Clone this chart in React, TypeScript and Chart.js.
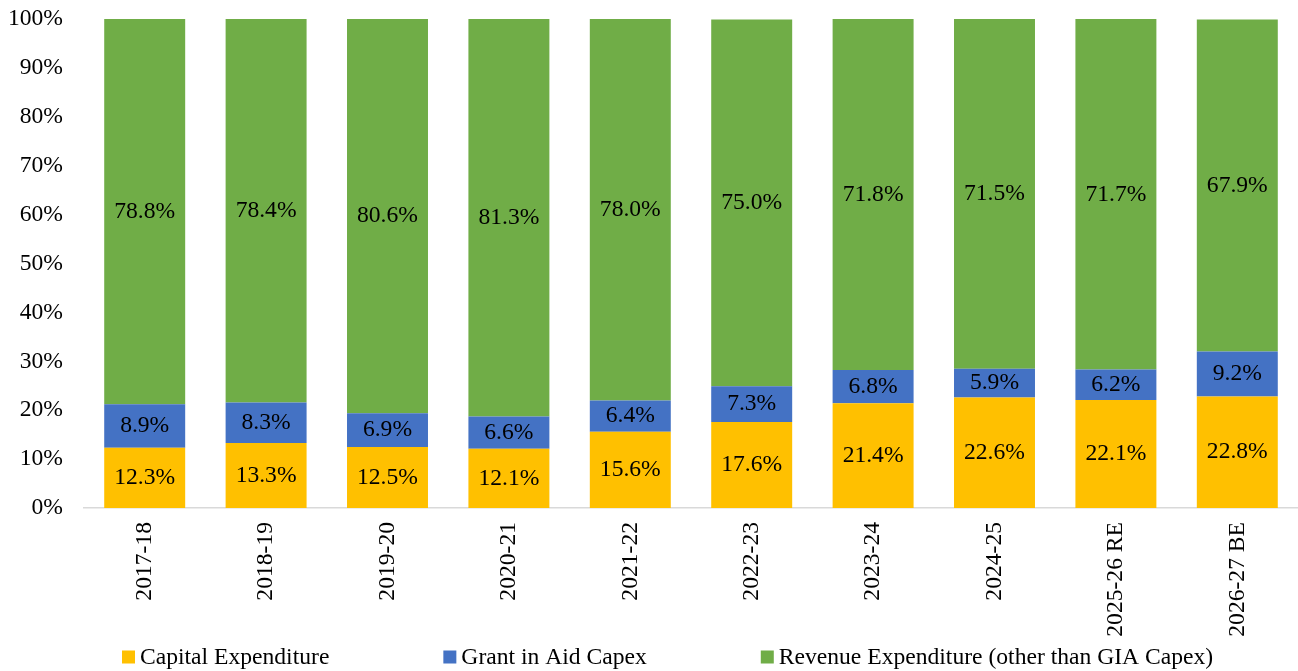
import React, { useEffect, useRef } from "react";
import { Chart, registerables } from "chart.js";

Chart.register(...registerables);

const categories = ["2017-18", "2018-19", "2019-20", "2020-21", "2021-22", "2022-23", "2023-24", "2024-25", "2025-26 RE", "2026-27 BE"];
const capitalExpenditure = [12.3, 13.3, 12.5, 12.1, 15.6, 17.6, 21.4, 22.6, 22.1, 22.8];
const grantInAidCapex = [8.9, 8.3, 6.9, 6.6, 6.4, 7.3, 6.8, 5.9, 6.2, 9.2];
const revenueExpenditure = [78.8, 78.4, 80.6, 81.3, 78.0, 75.0, 71.8, 71.5, 71.7, 67.9];
const seriesNames = ["Capital Expenditure", "Grant in Aid Capex", "Revenue Expenditure (other than GIA Capex)"];
const yTicks = [0, 10, 20, 30, 40, 50, 60, 70, 80, 90, 100];

const FONT_FAMILY = '"Liberation Serif", "Times New Roman", serif';
const FONT_SIZE = 23.6;
const COLORS = ["#FFC000", "#4472C4", "#70AD47"];

const dataLabelPlugin = {
  id: "segmentLabels",
  afterDatasetsDraw(chart: any) {
    const ctx = chart.ctx;
    ctx.save();
    ctx.font = `${FONT_SIZE}px ${FONT_FAMILY}`;
    ctx.fillStyle = "#000000";
    ctx.textAlign = "center";
    ctx.textBaseline = "middle";
    chart.data.datasets.forEach((ds: any, di: number) => {
      const meta = chart.getDatasetMeta(di);
      meta.data.forEach((bar: any, i: number) => {
        const v = ds.data[i];
        const y = (bar.y + bar.base) / 2;
        ctx.fillText(`${v.toFixed(1)}%`, bar.x, y);
      });
    });
    ctx.restore();
  },
};

const legendPlugin = {
  id: "customLegend",
  afterDraw(chart: any) {
    const ctx = chart.ctx;
    ctx.save();
    ctx.font = `${FONT_SIZE}px ${FONT_FAMILY}`;
    ctx.textBaseline = "middle";
    ctx.textAlign = "left";
    const box = 13;
    const gapText = 5;
    const gapItem = 114;
    const yMid = 657;
    let x = 122;
    chart.data.datasets.forEach((ds: any) => {
      ctx.fillStyle = ds.backgroundColor;
      ctx.fillRect(x, yMid - 6.5, box, box);
      ctx.fillStyle = "#000000";
      ctx.fillText(ds.label, x + box + gapText, yMid + 1);
      x += box + gapText + ctx.measureText(ds.label).width + gapItem;
    });
    ctx.restore();
  },
};

export default function App() {
  const canvasRef = useRef<HTMLCanvasElement | null>(null);

  useEffect(() => {
    document.body.style.margin = "0";
    const canvas = canvasRef.current;
    if (!canvas) return;
    const chart = new Chart(canvas, {
      type: "bar",
      data: {
        labels: categories,
        datasets: [
          { label: seriesNames[0], data: capitalExpenditure, backgroundColor: COLORS[0] },
          { label: seriesNames[1], data: grantInAidCapex, backgroundColor: COLORS[1] },
          { label: seriesNames[2], data: revenueExpenditure, backgroundColor: COLORS[2] },
        ],
      },
      options: {
        animation: false,
        responsive: true,
        maintainAspectRatio: false,
        layout: { padding: { top: 19, left: 0, right: 0, bottom: 0 } },
        datasets: { bar: { categoryPercentage: 1, barPercentage: 0.667, borderWidth: 0 } },
        plugins: {
          legend: { display: false },
          tooltip: { enabled: false },
          title: { display: false },
        },
        scales: {
          x: {
            stacked: true,
            grid: { display: false, drawTicks: false, tickLength: 0 },
            border: { display: true, color: "#D9D9D9", width: 1.5 },
            ticks: {
              color: "#000000",
              font: { family: FONT_FAMILY, size: FONT_SIZE },
              minRotation: 90,
              maxRotation: 90,
              padding: 14,
              autoSkip: false,
            },
            afterFit: (scale: any) => {
              scale.height = 163;
              scale.paddingLeft = 0;
              scale.paddingRight = 0;
            },
          },
          y: {
            stacked: true,
            min: 0,
            max: 100,
            afterBuildTicks: (scale: any) => {
              scale.ticks = yTicks.map((v) => ({ value: v }));
            },
            grid: { display: false, drawTicks: false, tickLength: 0 },
            border: { display: false },
            ticks: {
              color: "#000000",
              font: { family: FONT_FAMILY, size: FONT_SIZE },
              padding: 21,
              callback: (v: any) => `${v}%`,
            },
            afterFit: (scale: any) => {
              scale.width = 84;
              scale.paddingTop = 0;
              scale.paddingBottom = 0;
            },
          },
        },
      },
      plugins: [dataLabelPlugin, legendPlugin],
    });
    return () => chart.destroy();
  }, []);

  return (
    <div style={{ position: "fixed", left: 0, top: 0, width: "1298px", height: "671px" }}>
      <canvas ref={canvasRef} />
    </div>
  );
}
